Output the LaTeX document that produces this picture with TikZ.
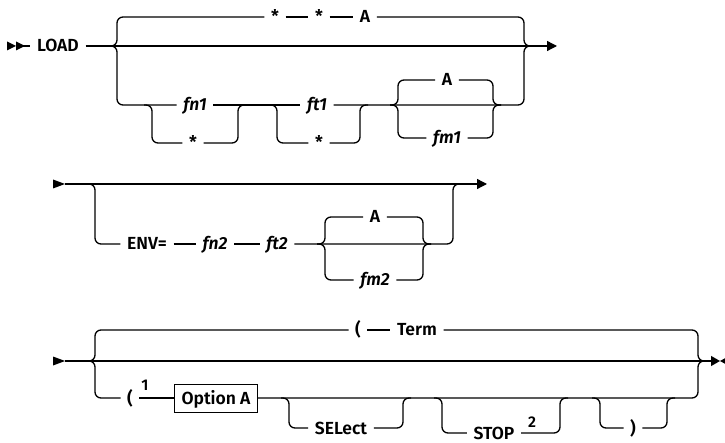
\documentclass[tikz,border=0pt]{standalone}
\usepackage{fontspec}
\setmainfont{Fira Sans}[UprightFont=* SemiBold, ItalicFont=* SemiBold Italic]
\usepackage{tikz}
\usetikzlibrary{arrows.meta,calc}
\tikzset{
  rr/.style={rounded corners=6pt},
  kw/.style={font=\fontsize{17.5}{20}\selectfont, inner xsep=6pt, inner ysep=0pt, text height=12pt, text depth=0pt},
  var/.style={kw, font=\fontsize{17.5}{20}\selectfont\itshape},
  sup/.style={font=\fontsize{15.5}{18}\selectfont, inner sep=0pt},
  optbox/.style={kw, draw, line width=1pt, inner xsep=7pt, minimum height=28pt},
  tip/.style={-{Triangle[length=10pt,width=10pt]}},
}
\begin{document}
\begin{tikzpicture}[x=1pt,y=-1pt,line width=1.3pt]
  \useasboundingbox (0,0) rectangle (725,443);
  % row 1
  \fill (7,41.5) -- (16,46) -- (7,50.5) -- cycle;
  \fill (16,41.5) -- (25,46) -- (16,50.5) -- cycle;
  \coordinate (st1) at (16,46);
  \node[kw] (load) at (58,46) {LOAD};
  \coordinate (a1) at (117,46);
  \coordinate (b1) at (524,46);
  \coordinate (end1) at (557,46);
  \draw (st1) -- (load);
  \draw[tip] (load) -- (end1);
  \node[kw] (t1) at (275,17) {*};
  \node[kw] (t2) at (319,17) {*};
  \node[kw] (t3) at (365,17) {A};
  \draw[rr] ([xshift=-8pt]a1) -| (a1 |- t1) -- (t1);
  \draw (t1) -- (t2) (t2) -- (t3);
  \draw[rr] (t3) -| (b1) -- ([xshift=8pt]b1);
  \node[var] (fn1) at (195,105) {fn1};
  \node[var] (ft1) at (317,105) {ft1};
  \draw[rr] ([xshift=-8pt]a1) -| (a1 |- fn1) -- (fn1);
  \draw (fn1) -- (ft1);
  \draw[rr] (ft1) -| (b1) -- ([xshift=8pt]b1);
  \coordinate (c1) at (152,105);
  \coordinate (d1) at (238,105);
  \node[kw] (s1) at (193,143) {*};
  \draw[rr] ([xshift=-8pt]c1) -| (c1 |- s1) -- (s1);
  \draw[rr] (s1) -| (d1) -- ([xshift=8pt]d1);
  \coordinate (c2) at (277,105);
  \coordinate (d2) at (360,105);
  \node[kw] (s2) at (319,143) {*};
  \draw[rr] ([xshift=-8pt]c2) -| (c2 |- s2) -- (s2);
  \draw[rr] (s2) -| (d2) -- ([xshift=8pt]d2);
  \coordinate (l1) at (398,105);
  \coordinate (r1) at (493,105);
  \node[kw] (opa1) at (447,80) {A};
  \node[var] (fm1) at (447,138) {fm1};
  \draw[rr] ([xshift=-8pt]l1) -| (l1 |- opa1) -- (opa1);
  \draw[rr] (opa1) -| (r1) -- ([xshift=8pt]r1);
  \draw[rr] ([xshift=-8pt]l1) -| (l1 |- fm1) -- (fm1);
  \draw[rr] (fm1) -| (r1) -- ([xshift=8pt]r1);
  % row 2
  \fill (53,179.5) -- (65,184) -- (53,188.5) -- cycle;
  \coordinate (st2) at (65,184);
  \coordinate (a2) at (95,184);
  \coordinate (b2) at (453,184);
  \coordinate (end2) at (487,184);
  \draw[tip] (st2) -- (end2);
  \node[kw] (env) at (147,244) {ENV=};
  \node[var] (fn2) at (215,244) {fn2};
  \node[var] (ft2) at (277,244) {ft2};
  \draw[rr] ([xshift=-8pt]a2) -| (a2 |- env) -- (env);
  \draw (env) -- (fn2) (fn2) -- (ft2);
  \draw[rr] (ft2) -| (b2) -- ([xshift=8pt]b2);
  \coordinate (l2) at (325,244);
  \coordinate (r2) at (423,244);
  \node[kw] (opa2) at (375,217) {A};
  \node[var] (fm2) at (375,280) {fm2};
  \draw[rr] ([xshift=-8pt]l2) -| (l2 |- opa2) -- (opa2);
  \draw[rr] (opa2) -| (r2) -- ([xshift=8pt]r2);
  \draw[rr] ([xshift=-8pt]l2) -| (l2 |- fm2) -- (fm2);
  \draw[rr] (fm2) -| (r2) -- ([xshift=8pt]r2);
  % row 3
  \fill (53,356.5) -- (65,361) -- (53,365.5) -- cycle;
  \coordinate (st3) at (65,361);
  \coordinate (a3) at (95,361);
  \coordinate (b3) at (698,361);
  \coordinate (end3) at (720,361);
  \draw[-{Triangle[length=9pt,width=10pt]}] (st3) -- (end3);
  \fill (729,356) -- (720,361) -- (729,366) -- cycle;
  \node[kw] (lp1) at (358,330) {(};
  \node[kw] (term) at (417,330) {Term};
  \draw[rr] ([xshift=-8pt]a3) -| (a3 |- lp1) -- (lp1);
  \draw (lp1) -- (term);
  \draw[rr] (term) -| (b3) -- ([xshift=8pt]b3);
  \node[kw] (lp2) at (130,398) {(};
  \node[sup] (n1) at (145,385) {1};
  \node[optbox] (opt) at (216,398) {Option A};
  \draw[rr] ([xshift=-8pt]a3) -| (a3 |- lp2) -- (lp2);
  \draw (lp2) -- (opt);
  \draw[rr] (opt) -| (b3) -- ([xshift=8pt]b3);
  \coordinate (c3) at (289,398);
  \coordinate (d3) at (403,398);
  \node[kw] (sel) at (341,428) {SELect};
  \draw[rr] ([xshift=-8pt]c3) -| (c3 |- sel) -- (sel);
  \draw[rr] (sel) -| (d3) -- ([xshift=8pt]d3);
  \coordinate (c4) at (442,398);
  \coordinate (d4) at (560,398);
  \node[kw] (stop) at (494,433) {STOP};
  \node[sup] (n2) at (532,422) {2};
  \draw[rr] ([xshift=-8pt]c4) -| (c4 |- stop) -- (stop);
  \draw[rr] (stop) -| (d4) -- ([xshift=8pt]d4);
  \coordinate (c5) at (600,398);
  \coordinate (d5) at (667,398);
  \node[kw] (rp) at (633,428) {)};
  \draw[rr] ([xshift=-8pt]c5) -| (c5 |- rp) -- (rp);
  \draw[rr] (rp) -| (d5) -- ([xshift=8pt]d5);
\end{tikzpicture}
\end{document}
